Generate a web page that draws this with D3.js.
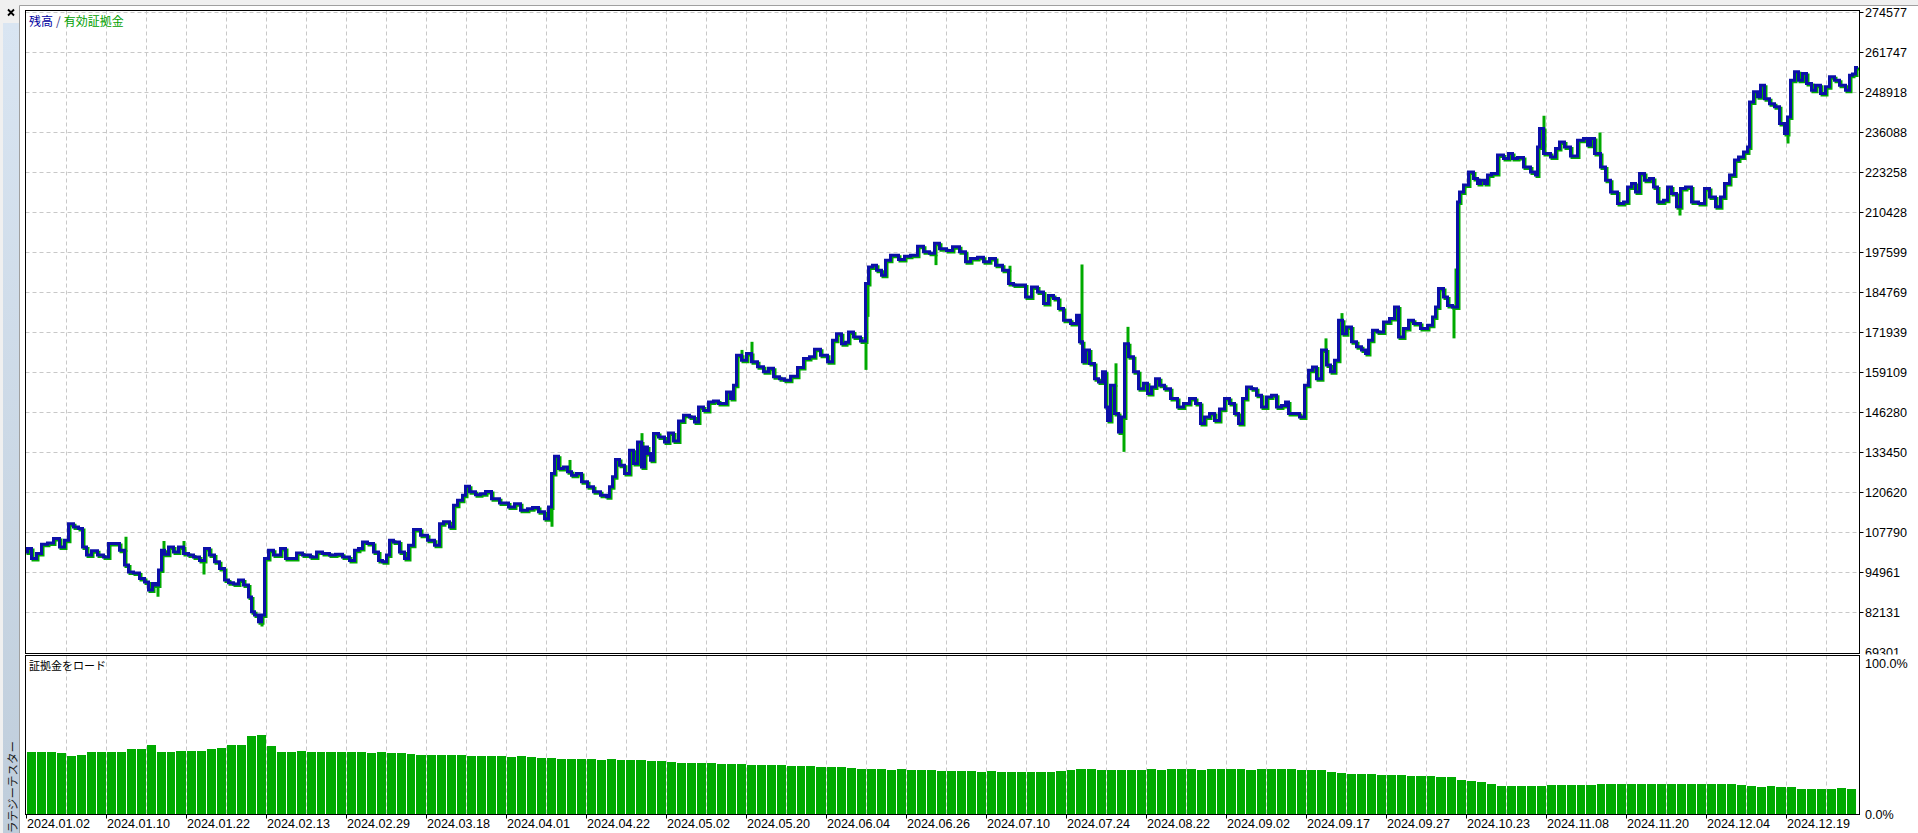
<!DOCTYPE html>
<html><head><meta charset="utf-8">
<script src="https://cdn.jsdelivr.net/npm/d3@7"></script>
<style>
html,body{margin:0;padding:0;background:#f0f0f0;overflow:hidden;}
svg{display:block;}
</style></head><body>
<svg id="c" width="1918" height="833"></svg>
<script>
// ---------------- DATA ----------------
const dateLabels = ["2024.01.02","2024.01.10","2024.01.22","2024.02.13","2024.02.29","2024.03.18","2024.04.01","2024.04.22","2024.05.02","2024.05.20","2024.06.04","2024.06.26","2024.07.10","2024.07.24","2024.08.22","2024.09.02","2024.09.17","2024.09.27","2024.10.23","2024.11.08","2024.11.20","2024.12.04","2024.12.19"];
const yTickValues = [69301,82131,94961,107790,120620,133450,146280,159109,171939,184769,197599,210428,223258,236088,248918,261747,274577];
const marginTickLabels = ["0.0%","100.0%"];
const totalDeals = 915;

// balance: [deal number, balance]
const balance = [[0,101600],[1,102700],[4,99500],[6,101100],[9,104100],[12,104500],[15,105900],[18,103200],[20,105400],[22,110700],[25,109600],[27,109100],[29,103200],[31,100600],[34,102000],[37,100600],[40,100000],[42,104300],[45,104300],[48,102200],[50,97400],[52,95200],[55,94900],[58,93100],[60,92000],[62,89400],[64,91500],[65,91000],[67,95800],[68,102200],[70,100900],[72,103200],[75,101600],[77,103200],[80,101100],[82,100600],[85,100000],[88,98900],[90,102700],[93,100600],[95,98500],[98,96300],[100,92600],[102,91700],[105,91300],[107,92600],[110,91000],[112,87200],[113,82400],[115,81400],[117,79200],[118,81400],[120,99500],[122,102200],[125,100600],[129,102700],[130,99500],[134,99500],[136,101300],[140,100600],[144,100000],[146,101600],[150,101100],[153,100600],[156,100900],[160,100000],[163,98900],[165,102200],[167,102700],[169,104800],[172,104300],[175,101600],[177,98900],[179,98500],[181,100600],[182,105400],[185,104800],[188,101600],[190,99500],[192,103800],[195,108800],[199,107000],[202,105400],[206,103800],[207,110700],[210,111300],[213,109600],[214,116600],[217,118200],[219,119800],[220,122700],[223,120900],[226,120000],[228,120300],[231,121000],[234,118700],[239,117300],[243,116000],[245,117100],[249,115000],[252,115500],[254,115900],[258,114500],[260,112300],[262,116000],[263,126800],[265,132300],[267,128400],[270,128900],[271,127300],[274,126200],[276,126800],[279,124100],[282,122500],[285,120900],[289,119800],[291,119300],[292,122500],[294,125700],[295,131300],[298,129400],[300,126800],[303,134200],[304,130000],[307,136900],[308,128900],[310,135300],[311,133200],[313,131000],[314,139600],[318,138500],[320,136900],[322,139800],[325,137200],[327,143600],[330,145500],[333,144900],[335,143300],[337,148100],[340,147000],[342,149700],[345,150000],[347,149200],[349,149200],[351,152900],[353,150800],[354,155100],[356,164700],[359,163100],[361,165300],[364,162600],[367,161000],[370,159400],[372,160500],[375,157800],[378,157200],[380,156700],[384,158000],[387,160800],[390,163700],[393,164200],[395,166600],[399,164700],[402,162600],[404,169500],[406,171600],[409,168400],[410,168900],[412,172200],[415,170600],[419,169300],[420,187700],[422,193000],[424,193600],[426,192000],[429,190400],[430,195200],[434,196800],[438,195400],[440,196500],[444,196800],[447,199700],[450,197900],[453,197400],[455,200600],[458,198900],[462,198300],[464,199500],[469,197900],[470,194700],[474,195700],[477,196100],[480,194700],[483,195700],[486,193600],[490,192000],[492,187700],[495,187200],[498,187200],[501,183400],[504,186600],[507,185000],[510,181300],[512,183900],[515,182900],[517,179700],[520,175900],[524,174900],[526,177500],[527,169000],[529,162600],[530,166400],[533,162100],[535,157200],[537,156100],[539,159400],[540,148100],[541,143800],[543,155100],[545,146000],[547,140100],[548,144900],[550,168400],[552,164200],[555,159400],[557,154000],[560,155700],[561,152400],[564,154500],[565,157200],[568,155100],[570,154000],[574,150800],[577,148100],[580,149200],[583,150800],[586,149200],[588,142800],[590,144900],[593,146000],[595,143800],[598,147500],[600,150800],[603,149200],[605,146000],[607,142800],[609,150800],[611,154500],[614,154000],[616,151900],[619,148100],[621,151300],[624,151900],[626,148100],[629,148600],[630,149700],[632,146000],[635,146000],[638,144900],[640,155100],[642,159900],[644,160900],[646,157200],[649,166400],[651,161600],[653,159400],[655,163100],[657,175900],[659,171600],[661,173800],[664,169000],[666,167400],[669,166400],[670,165300],[672,169500],[674,172700],[677,172200],[680,175400],[683,176500],[685,180200],[687,170600],[690,173300],[692,175900],[695,174900],[699,173300],[702,174300],[704,177000],[705,180200],[707,186100],[710,183400],[711,180700],[715,180200],[716,213900],[717,217100],[720,219300],[722,223500],[725,221400],[726,219800],[728,220800],[730,219800],[731,222500],[734,223000],[737,228900],[740,227800],[742,229400],[744,227800],[747,228100],[750,225100],[754,223500],[755,222500],[756,231500],[757,237400],[760,229400],[764,228300],[765,231000],[768,233100],[770,231500],[774,228600],[777,233700],[780,234200],[781,232100],[783,234200],[785,229400],[789,225100],[790,220800],[794,217100],[797,213400],[800,213900],[801,218700],[804,219800],[805,217100],[808,223000],[810,220800],[813,221400],[814,218700],[817,213900],[820,214400],[821,218700],[824,216600],[826,212300],[828,218200],[831,218700],[834,213900],[838,213400],[840,218200],[843,215500],[846,212300],[848,215500],[850,219800],[853,222500],[855,227300],[857,228300],[860,229900],[861,231500],[862,245900],[865,249200],[866,247600],[868,251300],[870,247000],[873,245400],[875,244400],[878,239000],[880,235800],[881,241100],[883,252900],[885,255600],[887,252900],[889,255100],[891,251900],[894,249700],[895,251300],[899,248700],[900,250800],[903,254000],[905,252900],[908,251300],[911,249700],[912,254500],[914,254900],[915,257000]];

// equity readings that differ from balance: [deal number, equity]
const equityDiffs = [[49,107000],[65,87700],[68,105600],[78,105600],[88,94900],[117,78200],[262,110200],[271,131600],[307,140200],[357,166900],[362,169500],[419,160500],[420,177500],[454,194100],[491,193900],[527,194300],[544,162600],[548,134200],[550,174300],[649,170600],[657,178700],[713,170600],[714,193000],[758,242000],[786,236600],[826,210000],[880,233100]];

// margin load (%), in equal deal buckets across the test
const marginLoad = [40.5,40,40.5,39.8,37.5,38,40.5,40.3,40,40.5,42,42.5,44.5,40.5,40.3,40.8,41,41.2,42.5,43,44.5,44.8,50.5,51,44,
40.5,40.3,40.6,40.2,40.4,40.1,40.3,40.5,40.2,39.8,40,39.6,39.5,
38.8,38.5,38.6,38.2,38,38.3,37.9,37.7,37.8,37.5,37.2,37.4,37,
36.5,36.2,36,35.8,35.9,35.5,35.3,35.4,35,34.8,34.9,34.5,34.4,
33.5,33.2,33,32.8,32.9,32.5,32.3,32.4,32,31.8,31.9,31.5,31.3,31.4,31,30.8,30.5,30.3,30,
29.5,29.2,29,28.8,28.9,28.5,28.3,28.4,28,28.2,27.8,27.9,27.5,27.6,27.3,27.5,27.2,27,27.3,27,
28,28.8,29.2,29,28.7,
28.5,28.3,28.6,28.8,29,28.7,28.9,29.2,29,28.8,29,29.3,29.1,29,28.8,29,29.2,29.4,29,28.7,28.5,28.3,
27,26.5,26.2,26,25.8,25.5,25.6,25.2,25,24.8,24.5,24.3,24,
22,21.5,21,19.5,18.5,
18.2,18.3,18,18.5,18.8,18.6,18.9,18.7,
19,19.2,19.4,19.3,19.5,19.2,19.4,19.6,19.8,19.7,
19.8,19.6,19.7,19.5,19.3,19,
18,17.8,17.9,17.5,17.3,
16.5,16.3,16.5,16.2,16.6,16.3];

// ---------------- DRAW ----------------
const svg = d3.select('#c');
const FONT = '"Liberation Sans", Arial, sans-serif';
const CJK = '"Noto Sans CJK JP", "Noto Sans CJK SC", sans-serif';
const BLUE = '#0c10a8', GREEN = '#00aa00';

const plotL = 25.5, plotR = 1859.5, mainT = 10.5, mainB = 653.5, subT = 655.5, subB = 814.5;
const x = d3.scaleLinear().domain([0, totalDeals]).range([26.5, 1856.5]);
const y = d3.scaleLinear().domain([yTickValues[0], yTickValues[yTickValues.length-1]]).range([652.7, 12.7]);
const yM = d3.scaleLinear().domain([0, 100]).range([814, 660]);

const defs = svg.append('defs');
const grad = defs.append('linearGradient').attr('id','side').attr('x1',0).attr('y1',0).attr('x2',0).attr('y2',1);
grad.append('stop').attr('offset','0%').attr('stop-color','#d9e5f2');
grad.append('stop').attr('offset','100%').attr('stop-color','#bfcddb');
defs.append('clipPath').attr('id','mainClip').append('rect')
  .attr('x', 26).attr('y', 11).attr('width', plotR - 26).attr('height', mainB - 11);
defs.append('clipPath').attr('id','lblClip').append('rect')
  .attr('x', 1860).attr('y', 0).attr('width', 60).attr('height', 654.5);

// window background
svg.append('rect').attr('width',1918).attr('height',833).attr('fill','#f0f0f0');
// sidebar
svg.append('rect').attr('x',3).attr('y',23).attr('width',16).attr('height',810).attr('fill','url(#side)');
svg.append('text').attr('transform','translate(16.5,741) rotate(-90)')
  .attr('text-anchor','end').attr('font-family',CJK).attr('font-size',11.5).attr('fill','#1a1a1a')
  .text('ストラテジーテスター');
// close mark
svg.append('path').attr('d','M8,9.5 L14,15.5 M14,9.5 L8,15.5').attr('stroke','#000').attr('stroke-width',1.8);
// chart container
svg.append('rect').attr('x',20).attr('y',5).attr('width',1898).attr('height',828).attr('fill','#fff');
svg.append('path').attr('d','M19.5,833 V5.5 H1918').attr('fill','none').attr('stroke','#a0a0a0');

// grid (main)
const grid = svg.append('g').attr('stroke','#c8c8c8').attr('stroke-dasharray','4,3').attr('stroke-width',1);
const vDeals = d3.range(20, totalDeals, 20);
grid.selectAll('.v').data(vDeals).join('line')
  .attr('x1', d => Math.floor(x(d)) + 0.5).attr('x2', d => Math.floor(x(d)) + 0.5)
  .attr('y1', mainT).attr('y2', mainB);
grid.selectAll('.vs').data(vDeals).join('line')
  .attr('x1', d => Math.floor(x(d)) + 0.5).attr('x2', d => Math.floor(x(d)) + 0.5)
  .attr('y1', subT).attr('y2', subB);
grid.selectAll('.h').data(yTickValues.slice(1)).join('line')
  .attr('x1', plotL).attr('x2', plotR)
  .attr('y1', d => Math.floor(y(d)) + 0.5).attr('y2', d => Math.floor(y(d)) + 0.5);

// margin load bars
const bw = totalDeals / marginLoad.length;
svg.append('g').selectAll('rect').data(marginLoad).join('rect')
  .attr('x', (d,i) => Math.round(x(i*bw)))
  .attr('width', (d,i) => Math.round(x((i+1)*bw)) - Math.round(x(i*bw)) - 1)
  .attr('y', d => Math.round(yM(d)))
  .attr('height', d => 814 - Math.round(yM(d)))
  .attr('fill', GREEN);

// equity & balance lines
const stepLine = d3.line().x(d => x(d[0])).y(d => y(d[1])).curve(d3.curveStep);
const straight = d3.line().x(d => x(d[0])).y(d => y(d[1]));
const nearestBal = d => balance.reduce((a, b) => Math.abs(b[0]-d) < Math.abs(a[0]-d) ? b : a)[1];
const lines = svg.append('g').attr('clip-path','url(#mainClip)');
const eqG = lines.append('g').attr('transform','translate(1.5,1.5)')
  .attr('fill','none').attr('stroke',GREEN).attr('stroke-width',3);
eqG.append('path').attr('d', stepLine(balance)).attr('stroke-linecap','square');
eqG.selectAll('.sp').data(equityDiffs).join('path')
  .attr('d', d => straight([[d[0], nearestBal(d[0])], [d[0], d[1]]]));
lines.append('path').attr('d', stepLine(balance)).attr('fill','none').attr('stroke',BLUE)
  .attr('stroke-width',3).attr('stroke-linejoin','miter').attr('stroke-linecap','square');

// frames
const fr = svg.append('g').attr('fill','none').attr('stroke','#000').attr('stroke-width',1);
fr.append('rect').attr('x',plotL).attr('y',mainT).attr('width',plotR-plotL).attr('height',mainB-mainT);
fr.append('rect').attr('x',plotL).attr('y',subT).attr('width',plotR-plotL).attr('height',subB-subT);

// right axis labels
const ax = svg.append('g').attr('font-family',FONT).attr('font-size',12.6).attr('fill','#000');
ax.append('g').attr('clip-path','url(#lblClip)').selectAll('text').data(yTickValues).join('text')
  .attr('x',1865).attr('y', d => y(d) + 4.6).text(d => d3.format('d')(d));
svg.append('g').attr('stroke','#000').selectAll('line').data(yTickValues.slice(1)).join('line')
  .attr('x1',plotR).attr('x2',plotR+4)
  .attr('y1', d => Math.floor(y(d)) + 0.5).attr('y2', d => Math.floor(y(d)) + 0.5);
ax.append('text').attr('x',1865).attr('y', yM(100) + 8).text(marginTickLabels[1]);
ax.append('text').attr('x',1865).attr('y', yM(0) + 5).text(marginTickLabels[0]);

// bottom date axis
const dateDeals = dateLabels.map((d,i) => i * 40);
svg.append('g').attr('stroke','#000').selectAll('line').data(dateDeals).join('line')
  .attr('x1', d => Math.floor(x(d)) + 0.5).attr('x2', d => Math.floor(x(d)) + 0.5)
  .attr('y1', subB).attr('y2', subB + 4);
ax.append('g').selectAll('text').data(dateLabels).join('text')
  .attr('x', (d,i) => Math.floor(x(dateDeals[i])) + 1).attr('y', 827.5).text(d => d);

// legends
const lg = svg.append('text').attr('x',29).attr('y',25.5).attr('font-family',CJK).attr('font-size',12);
lg.append('tspan').attr('fill','#0000a0').text('残高');
lg.append('tspan').attr('fill','#3a3a8a').attr('dx',3).text('/');
lg.append('tspan').attr('fill','#00a000').attr('dx',3).text('有効証拠金');
svg.append('text').attr('x',29).attr('y',670).attr('font-family',CJK).attr('font-size',11)
  .attr('fill','#000').text('証拠金をロード');
</script>
</body></html>
